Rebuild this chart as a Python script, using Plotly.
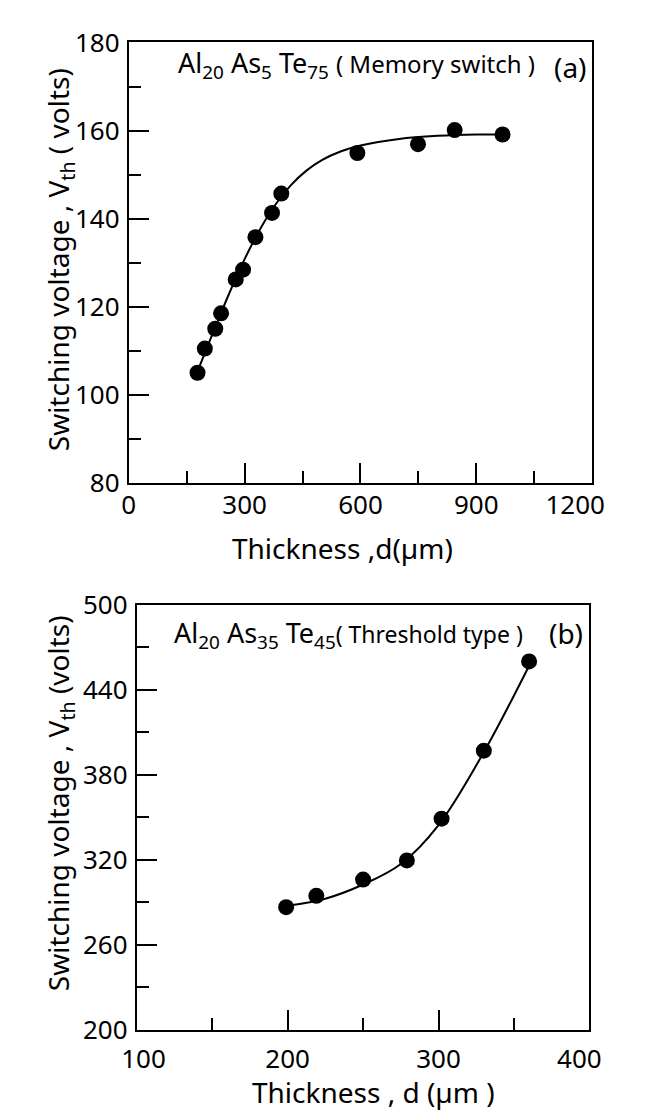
import plotly.graph_objects as go

W, H = 647, 1120
FONT = "Noto Sans"
NB = "\u00a0"

# ---------------- Panel (a): Al20As5Te75 (memory switch) ----------------
a_thickness = [178, 197, 224, 239, 277, 296, 328, 371, 395, 592, 749, 844, 968]
a_voltage = [105.0, 110.5, 115.0, 118.5, 126.2, 128.4, 135.8, 141.3, 145.7, 154.9, 156.9, 160.1, 159.1]
a_fit_thickness = [178, 220, 260, 300, 340, 380, 420, 460, 500, 550, 600, 700, 800, 900, 968]
a_fit_voltage = [105.3, 114.5, 123.0, 130.8, 137.6, 143.2, 147.6, 150.9, 153.3, 155.3, 156.6,
                 158.1, 158.8, 159.1, 159.1]
a_xticks = [0, 300, 600, 900, 1200]
a_xticktext = ["0", "300", "600", "900", "1200" + NB * 5]
a_xminor = [150, 450, 750, 1050]
a_yticks = [80, 100, 120, 140, 160, 180]
a_yminor = [90, 110, 130, 150, 170]

# ---------------- Panel (b): Al20As35Te45 (threshold type) ----------------
b_thickness = [199, 219, 250, 279, 302, 330, 360]
b_voltage = [286.5, 294.5, 306, 319.5, 349, 397, 460]
b_fit_thickness = [200, 225, 250, 275, 300, 330, 360]
b_fit_voltage = [287.5, 292.5, 302.5, 317, 344.5, 396, 457]
b_xticks = [100, 200, 300, 400]
b_xticktext = [NB * 2 + "100", "200", "300", "400" + NB * 3]
b_xminor = [150, 250, 350]
b_yticks = [200, 260, 320, 380, 440, 500]
b_yminor = [230, 290, 350, 410, 470]


def px(x):
    return x / W


def py(y):
    return 1 - y / H


def axis(domain, rng, tickvals, minorvals, anchor, standoff, ticktext=None):
    d = dict(
        domain=domain, range=rng, anchor=anchor,
        tickmode="array", tickvals=tickvals,
        ticks="inside", ticklen=20, tickwidth=1.5, tickcolor="black",
        ticklabelstandoff=standoff, ticklabeloverflow="allow",
        showline=True, linewidth=2, linecolor="black", mirror=True,
        showgrid=False, zeroline=False, fixedrange=True,
        tickfont=dict(family=FONT, size=26, color="black"),
        minor=dict(tickmode="array", tickvals=minorvals, ticks="inside",
                   ticklen=12, tickwidth=1.5, tickcolor="black", showgrid=False),
    )
    if ticktext is not None:
        d["ticktext"] = ticktext
    return d


fig = go.Figure()
marker = dict(size=16, color="black")
line = dict(color="black", width=2, shape="spline", smoothing=1.0)

fig.add_trace(go.Scatter(x=a_fit_thickness, y=a_fit_voltage, mode="lines", line=line,
                         xaxis="x", yaxis="y", hoverinfo="skip"))
fig.add_trace(go.Scatter(x=a_thickness, y=a_voltage, mode="markers", marker=marker,
                         xaxis="x", yaxis="y"))
fig.add_trace(go.Scatter(x=b_fit_thickness, y=b_fit_voltage, mode="lines", line=line,
                         xaxis="x2", yaxis="y2", hoverinfo="skip"))
fig.add_trace(go.Scatter(x=b_thickness, y=b_voltage, mode="markers", marker=marker,
                         xaxis="x2", yaxis="y2"))

title_font = dict(family=FONT, size=28, color="black")
label_font = dict(family=FONT, size=27, color="black")
panel_font = dict(family=FONT, size=28, color="black")

annotations = [
    # panel (a)
    dict(x=px(158), y=py(39), xanchor="left", yanchor="middle",
         text="Al<sub>20</sub> As<sub>5</sub> Te<sub>75</sub> "
              "<span style='font-size:24px'>( Memory switch )</span>",
         font=label_font),
    dict(x=px(625), y=py(41), xanchor="right", yanchor="middle", text="(a)", font=panel_font),
    dict(x=px(346), y=py(538), xanchor="center", yanchor="middle",
         text="Thickness ,d(µm)", font=title_font),
    dict(x=px(26), y=py(240), xanchor="center", yanchor="middle", textangle=-90,
         text="Switching voltage , V<sub>th</sub> ( volts)", font=title_font),
    # panel (b)
    dict(x=px(153), y=py(628), xanchor="left", yanchor="middle",
         text="Al<sub>20</sub> As<sub>35</sub> Te<sub>45</sub>"
              "<span style='font-size:23px'>( Threshold type )</span>",
         font=label_font),
    dict(x=px(621), y=py(626), xanchor="right", yanchor="middle", text="(b)", font=panel_font),
    dict(x=px(381), y=py(1100), xanchor="center", yanchor="middle",
         text="Thickness , d (µm )", font=title_font),
    dict(x=px(26), y=py(802), xanchor="center", yanchor="middle", textangle=-90,
         text="Switching voltage , V<sub>th</sub> (volts)", font=title_font),
]
for a in annotations:
    a.update(xref="paper", yref="paper", showarrow=False)

fig.update_layout(
    width=W, height=H,
    margin=dict(l=0, r=0, t=0, b=0),
    paper_bgcolor="white", plot_bgcolor="white",
    showlegend=False,
    font=dict(family=FONT, color="black"),
    xaxis=axis([px(104), px(629)], [0, 1200], a_xticks, a_xminor, "y", -2, a_xticktext),
    yaxis=axis([py(471), py(16)], [80, 180], a_yticks, a_yminor, "x", 2),
    xaxis2=axis([px(113), px(626)], [100, 400], b_xticks, b_xminor, "y2", 5, b_xticktext),
    yaxis2=axis([py(1036), py(597)], [200, 500], b_yticks, b_yminor, "x2", 2),
    annotations=annotations,
)

fig.write_html("out.html")
